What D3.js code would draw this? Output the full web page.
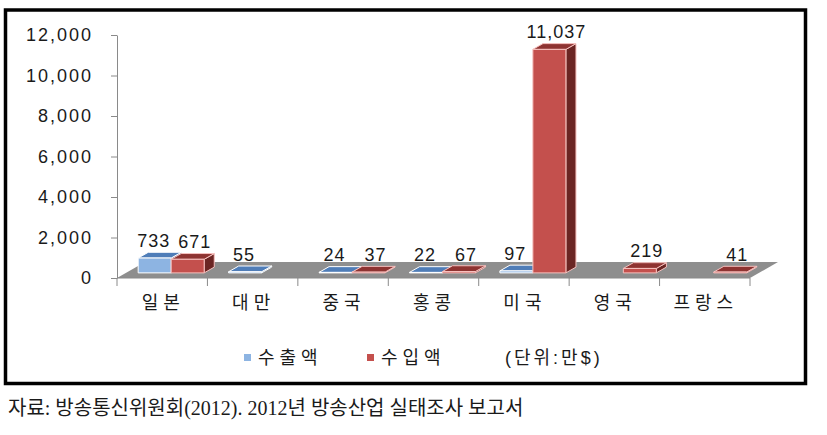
<!DOCTYPE html>
<html>
<head>
<meta charset="utf-8">
<script src="https://cdn.jsdelivr.net/npm/d3@7"></script>
<style>
  body { margin: 0; background: #fff; }
  svg text { fill: #1a1a1a; }
</style>
</head>
<body>
<div id="chart"></div>
<script>
// 국가별 방송프로그램 수출입액 (단위: 만$)
const categories = ["일본", "대만", "중국", "홍콩", "미국", "영국", "프랑스"];
const seriesNames = ["수출액", "수입액"];
const exportValues = [733, 55, 24, 22, 97, null, null];
const importValues = [671, null, 37, 67, 11037, 219, 41];
const yTicks = [0, 2000, 4000, 6000, 8000, 10000, 12000];
const unitLabel = "(단위:만$)";
const sourceText = "자료: 방송통신위원회(2012). 2012년 방송산업 실태조사 보고서";

const W = 827, H = 435;
const kx = 28, ky = 16;      // depth offset of the 3d floor
const z0 = 0.32, z1 = 0.68;  // bar front/back depth
const fontSans = "'Liberation Sans', 'Noto Sans CJK KR', sans-serif";
const fontSerif = "'Liberation Serif', 'Noto Sans CJK KR', serif";

const colors = {
  "수출액": { front: "#8db4e2", top: "#4f7db8", side: "#3a6190", edge: "#ffffff", labelDx: -1 },
  "수입액": { front: "#c4504d", top: "#8e3331", side: "#6b2523", edge: "#f6c0be", labelDx: 7 }
};

const svg = d3.select("#chart").append("svg")
  .attr("width", W).attr("height", H);

svg.append("rect").attr("width", W).attr("height", H).attr("fill", "#fff");

// frame
svg.append("rect")
  .attr("x", 5.5).attr("y", 10)
  .attr("width", 800).attr("height", 373.5)
  .attr("fill", "none").attr("stroke", "#000").attr("stroke-width", 3.5);

const x = d3.scaleBand().domain(categories).range([117, 750]);
const xs = d3.scaleBand().domain(seriesNames).range([0, x.bandwidth()])
  .paddingInner(0).paddingOuter(0.37);
const y = d3.scaleLinear().domain([0, 12000]).range([278, 35]);

function proj(px, v, z) {
  return [px + kx * z, y(v) - ky * z];
}
const line = d3.line();

// floor
svg.append("path")
  .attr("d", line([proj(117, 0, 0), proj(750, 0, 0), proj(750, 0, 1), proj(117, 0, 1)]) + "Z")
  .attr("fill", "#8e8e8e");

// y axis
const yAxis = svg.append("g")
  .attr("transform", "translate(117,0)")
  .call(d3.axisLeft(y).tickValues(yTicks).tickSize(6).tickSizeOuter(0)
    .tickPadding(18).tickFormat(d3.format(",")));
yAxis.select(".domain").attr("stroke", "#8a8a8a");
yAxis.selectAll(".tick line").attr("stroke", "#8a8a8a");
yAxis.selectAll(".tick text")
  .attr("font-family", fontSans).attr("font-size", 18)
  .attr("letter-spacing", "2px").attr("fill", "#1a1a1a");

// x axis line + boundary ticks
const xg = svg.append("g");
xg.append("line")
  .attr("x1", 117).attr("x2", 750).attr("y1", y(0)).attr("y2", y(0))
  .attr("stroke", "#8a8a8a");
const bounds = categories.map(c => x(c)).concat([x(categories[categories.length - 1]) + x.bandwidth()]);
xg.selectAll(".xtick").data(bounds).enter().append("line")
  .attr("x1", d => d).attr("x2", d => d)
  .attr("y1", y(0)).attr("y2", y(0) + 8)
  .attr("stroke", "#8a8a8a");
xg.selectAll(".xlabel").data(categories).enter().append("text")
  .attr("x", d => x(d) + x.bandwidth() / 2 + 1)
  .attr("y", 309)
  .attr("text-anchor", "middle")
  .attr("font-family", fontSans).attr("font-size", 18)
  .attr("letter-spacing", "5px")
  .text(d => d);

// bars
const bars = [];
categories.forEach((c, i) => {
  [[seriesNames[0], exportValues[i]], [seriesNames[1], importValues[i]]].forEach(([s, v]) => {
    if (v !== null) bars.push({ cat: c, series: s, value: v });
  });
});

const barG = svg.append("g").selectAll("g").data(bars).enter().append("g");
barG.each(function (d) {
  const g = d3.select(this);
  const x0 = x(d.cat) + xs(d.series), w = xs.bandwidth(), v = d.value;
  const col = colors[d.series];
  const side = [proj(x0 + w, 0, z0), proj(x0 + w, 0, z1), proj(x0 + w, v, z1), proj(x0 + w, v, z0)];
  const top = [proj(x0, v, z0), proj(x0 + w, v, z0), proj(x0 + w, v, z1), proj(x0, v, z1)];
  const front = [proj(x0, 0, z0), proj(x0 + w, 0, z0), proj(x0 + w, v, z0), proj(x0, v, z0)];
  [[side, col.side], [top, col.top], [front, col.front]].forEach(([pts, fill]) => {
    g.append("path").attr("d", line(pts) + "Z")
      .attr("fill", fill).attr("stroke", col.edge)
      .attr("stroke-width", 1).attr("stroke-linejoin", "round");
  });
});

// value labels
svg.append("g").selectAll("text").data(bars).enter().append("text")
  .attr("x", d => x(d.cat) + xs(d.series) + xs.bandwidth() / 2 + kx * z0 + colors[d.series].labelDx)
  .attr("y", d => y(d.value) - ky * z0 - 11)
  .attr("text-anchor", "middle")
  .attr("font-family", fontSans).attr("font-size", 18)
  .attr("letter-spacing", "1px")
  .text(d => d3.format(",")(d.value));

// legend
const lg = svg.append("g");
const legendX = [244, 367];
seriesNames.forEach((s, i) => {
  lg.append("rect")
    .attr("x", legendX[i]).attr("y", 354)
    .attr("width", 7).attr("height", 7)
    .attr("fill", colors[s].front);
  lg.append("text")
    .attr("x", legendX[i] + 14).attr("y", 364)
    .attr("font-family", fontSans).attr("font-size", 18)
    .attr("letter-spacing", "5px")
    .text(s);
});
lg.append("text")
  .attr("x", 505).attr("y", 364)
  .attr("font-family", fontSans).attr("font-size", 18)
  .attr("letter-spacing", "3px")
  .text(unitLabel);

// source
svg.append("text")
  .attr("x", 8).attr("y", 415)
  .attr("font-family", fontSerif).attr("font-size", 20)
  .text(sourceText);
</script>
</body>
</html>
